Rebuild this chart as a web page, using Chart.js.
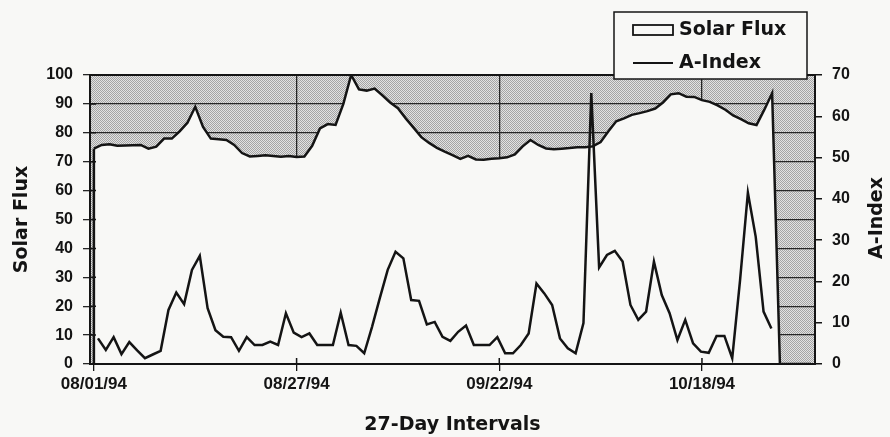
<!DOCTYPE html>
<html>
<head>
<meta charset="utf-8">
<title>Solar Flux / A-Index</title>
<script src="https://cdn.jsdelivr.net/npm/chart.js@4.4.1/dist/chart.umd.min.js"></script>
<style>
  html, body { margin: 0; padding: 0; background: #f8f8f6; }
  #wrap { width: 890px; height: 437px; position: relative; }
</style>
</head>
<body>
<div id="wrap"><canvas id="fluxChart"></canvas></div>
<script>
'use strict';

// ------------------------------------------------------------
// data
// ------------------------------------------------------------

const dayCount = 93;              // one category per day
const tickEvery = 26;             // a labelled tick every 26 days
const tickLabels = ['08/01/94', '08/27/94', '09/22/94', '10/18/94'];

// Solar Flux (left axis), one value per day; drops to 0 after the data ends
const solarFlux = [
    74.5, 75.8, 76, 75.5, 75.6, 75.7, 75.8, 74.5, 75.2, 78,
    78, 80.5, 83.5, 89, 82, 78, 77.8, 77.5, 75.8, 73,
    71.8, 72, 72.2, 72, 71.7, 72, 71.6, 71.8, 75.5, 81.5,
    83, 82.7, 90, 100, 95, 94.6, 95.3, 93, 90.5, 88.5,
    85, 81.8, 78.5, 76.5, 74.8, 73.5, 72.3, 71, 72, 70.8,
    70.7, 71, 71.2, 71.5, 72.5, 75.3, 77.5, 75.8, 74.6, 74.3,
    74.5, 74.7, 75, 75, 75.3, 76.8, 80.5, 84, 85, 86.2,
    86.8, 87.5, 88.4, 90.5, 93.3, 93.7, 92.5, 92.4, 91.3, 90.7,
    89.5, 88, 86, 84.7, 83.3, 82.7, 88, 93.7, 0, 0,
    0, 0, 0
];

// A-Index (right axis)
const aIndex = [
    6.2, 3.4, 6.5, 2.4, 5.3, 3.3, 1.4, 2.3, 3.2, 13.1,
    17.3, 14.5, 22.8, 26.2, 13.5, 8.2, 6.6, 6.5, 3.2, 6.5,
    4.6, 4.6, 5.4, 4.6, 12.3, 7.6, 6.5, 7.4, 4.6, 4.6,
    4.6, 12.4, 4.6, 4.4, 2.6, 9, 16, 22.8, 27.2, 25.6,
    15.5, 15.3, 9.6, 10.2, 6.6, 5.6, 7.8, 9.3, 4.6, 4.6,
    4.6, 6.5, 2.6, 2.6, 4.6, 7.4, 19.5, 17.1, 14.3, 6.2,
    3.8, 2.6, 9.9, 65.6, 23.4, 26.4, 27.4, 24.8, 14.3, 10.7,
    12.7, 24.8, 16.7, 12.3, 5.8, 10.7, 5, 3, 2.7, 6.8,
    6.8, 1.4, 20.3, 41.5, 30.8, 12.7, 8.6
];

// ------------------------------------------------------------
// styles
// ------------------------------------------------------------

const INK = '#141414';
const PAPER = '#f8f8f6';
const labelFont = { family: "'DejaVu Sans', sans-serif", size: 19, weight: 'bold' };
const tickFont = { family: "'Liberation Sans', Arial, sans-serif", size: 16, weight: 'bold' };
const dateFont = { family: "'Liberation Sans', Arial, sans-serif", size: 17, weight: 'bold' };

// fine grey stipple for the plot background
function makeStipple() {
    const c = document.createElement('canvas');
    c.width = 2;
    c.height = 2;
    const g = c.getContext('2d');
    g.fillStyle = '#e2e2e2';
    g.fillRect(0, 0, 2, 2);
    g.fillStyle = '#a4a4a4';
    g.fillRect(0, 0, 1, 1);
    g.fillRect(1, 1, 1, 1);
    return c;
}

const stipplePlugin = {
    id: 'stipple',
    beforeDraw(chart) {
        const { ctx, chartArea: a } = chart;
        ctx.save();
        ctx.fillStyle = ctx.createPattern(makeStipple(), 'repeat');
        ctx.fillRect(a.left, a.top, a.right - a.left, a.bottom - a.top);
        ctx.restore();
    },
    afterDatasetsDraw(chart) {
        const { ctx, chartArea: a, scales } = chart;
        ctx.save();
        ctx.strokeStyle = INK;

        // plot frame
        ctx.lineWidth = 2;
        ctx.strokeRect(a.left, a.top, a.right - a.left, a.bottom - a.top);

        // left edge of the flux area
        const first = chart.getDatasetMeta(0).data[0];
        ctx.lineWidth = 2.5;
        ctx.beginPath();
        ctx.moveTo(first.x, first.y);
        ctx.lineTo(first.x, a.bottom);
        ctx.stroke();

        // inner halves of the tick marks
        ctx.lineWidth = 1.5;
        ctx.beginPath();
        scales.x.ticks.forEach((t, i) => {
            if (i % tickEvery) return;
            const px = scales.x.getPixelForTick(i);
            ctx.moveTo(px, a.bottom);
            ctx.lineTo(px, a.bottom - 6);
        });
        scales.y.ticks.forEach((t, i) => {
            const py = scales.y.getPixelForTick(i);
            ctx.moveTo(a.left, py);
            ctx.lineTo(a.left + 6, py);
        });
        ctx.stroke();
        ctx.restore();
    },
    afterDraw(chart) {
        const { ctx } = chart;
        const ds = chart.data.datasets;
        ctx.save();

        // legend box
        ctx.fillStyle = PAPER;
        ctx.strokeStyle = INK;
        ctx.lineWidth = 1.5;
        ctx.fillRect(614, 12, 193, 67);
        ctx.strokeRect(614, 12, 193, 67);

        ctx.lineWidth = 1.8;
        ctx.strokeRect(633, 25, 40, 10);
        ctx.lineWidth = 2.2;
        ctx.beginPath();
        ctx.moveTo(633, 63);
        ctx.lineTo(673, 63);
        ctx.stroke();

        ctx.fillStyle = INK;
        ctx.font = `${labelFont.weight} ${labelFont.size}px ${labelFont.family}`;
        ctx.textAlign = 'left';
        ctx.textBaseline = 'middle';
        ctx.fillText(ds[0].label, 679, 30);
        ctx.fillText(ds[1].label, 679, 63);

        // right axis title, reading bottom to top
        ctx.translate(877, 218);
        ctx.rotate(-Math.PI / 2);
        ctx.textAlign = 'center';
        ctx.fillText('A-Index', 0, 0);
        ctx.restore();
    }
};

// ------------------------------------------------------------
// chart
// ------------------------------------------------------------

const days = Array.from({ length: dayCount }, (_, i) => i);

new Chart(document.getElementById('fluxChart'), {
    type: 'line',
    data: {
        labels: days,
        datasets: [
            {
                label: 'Solar Flux',
                data: solarFlux,
                xAxisID: 'x',
                yAxisID: 'y',
                borderColor: INK,
                borderWidth: 2.5,
                backgroundColor: PAPER,
                fill: 'origin',
                pointRadius: 0,
                tension: 0,
                order: 1
            },
            {
                label: 'A-Index',
                data: aIndex.map((v, k) => ({ x: k, y: v })),
                xAxisID: 'x2',
                yAxisID: 'y2',
                borderColor: INK,
                borderWidth: 2.5,
                fill: false,
                pointRadius: 0,
                tension: 0,
                order: 0
            }
        ]
    },
    options: {
        responsive: true,
        maintainAspectRatio: false,
        animation: false,
        layout: { padding: { top: 75, left: 0, right: 0, bottom: 0 } },
        plugins: {
            legend: { display: false },
            tooltip: { enabled: false }
        },
        scales: {
            x: {
                type: 'category',
                offset: true,
                border: { display: false },
                grid: {
                    color: (c) => (c.index % tickEvery === 0 && c.index > 0) ? '#262626' : 'transparent',
                    tickColor: (c) => (c.index % tickEvery === 0) ? INK : 'transparent',
                    lineWidth: 1.3,
                    tickLength: 7
                },
                ticks: {
                    autoSkip: false,
                    maxRotation: 0,
                    padding: 3,
                    color: INK,
                    font: dateFont,
                    callback: (v, i) => (i % tickEvery === 0) ? tickLabels[i / tickEvery] : ''
                },
                title: {
                    display: true,
                    text: '27-Day Intervals',
                    color: INK,
                    font: labelFont,
                    padding: { top: 0, bottom: 1 }
                },
                afterFit: (s) => { s.height = 73; }
            },
            x2: {
                type: 'linear',
                display: false,
                min: -1.02,
                max: 91.57
            },
            y: {
                position: 'left',
                min: 0,
                max: 100,
                border: { display: false },
                grid: { color: '#262626', lineWidth: 1.3, tickLength: 7 },
                ticks: { stepSize: 10, padding: 10, color: INK, font: tickFont },
                title: {
                    display: true,
                    text: 'Solar Flux',
                    color: INK,
                    font: labelFont,
                    padding: { top: 11, bottom: 0 }
                },
                afterFit: (s) => { s.width = 90; }
            },
            y2: {
                position: 'right',
                min: 0,
                max: 70,
                border: { display: false },
                grid: { drawOnChartArea: false, color: INK, lineWidth: 1.5, tickLength: 7 },
                ticks: { stepSize: 10, padding: 10, color: INK, font: tickFont },
                afterFit: (s) => { s.width = 75; }
            }
        }
    },
    plugins: [stipplePlugin]
});
</script>
</body>
</html>
